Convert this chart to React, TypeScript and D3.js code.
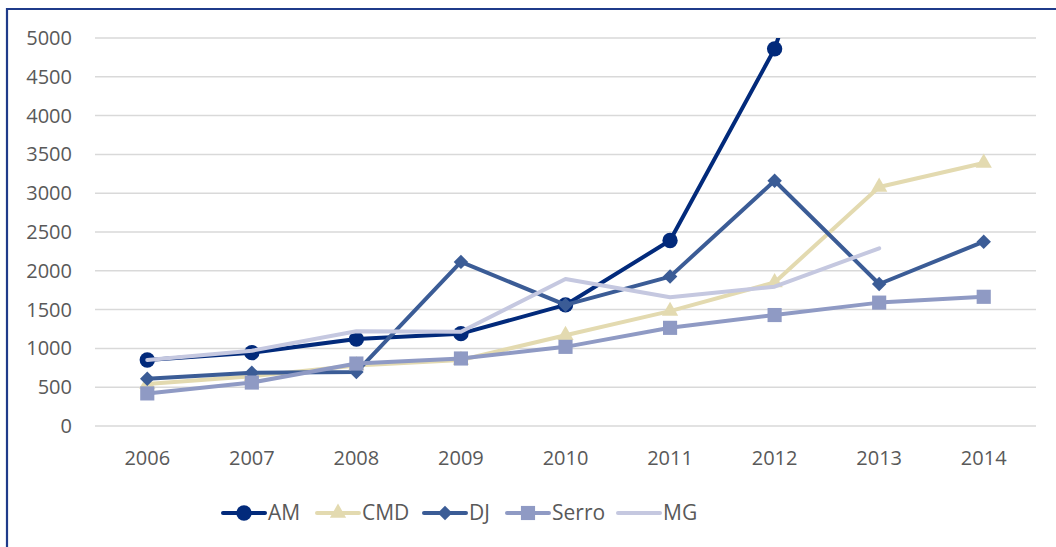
import { useMemo } from "react";
import * as d3 from "d3";

const width = 1056;
const height = 547;
const margin = { top: 38, right: 20, bottom: 121, left: 95 };

const years = ["2006", "2007", "2008", "2009", "2010", "2011", "2012", "2013", "2014"];
const yTicks = [0, 500, 1000, 1500, 2000, 2500, 3000, 3500, 4000, 4500, 5000];

const amValues = [850, 945, 1120, 1190, 1560, 2390, 4860, 8900, null];
const cmdValues = [540, 640, 780, 850, 1170, 1480, 1850, 3080, 3390];
const djValues = [610, 685, 695, 2115, 1560, 1925, 3160, 1830, 2375];
const serroValues = [420, 560, 805, 870, 1020, 1265, 1430, 1590, 1665];
const mgValues = [850, 970, 1220, 1215, 1895, 1660, 1795, 2290, null];

type Marker = "circle" | "triangle" | "diamond" | "square" | "none";

type Series = {
  name: string;
  values: (number | null)[];
  color: string;
  marker: Marker;
};

const series: Series[] = [
  { name: "AM", values: amValues, color: "#022a7b", marker: "circle" },
  { name: "CMD", values: cmdValues, color: "#e3dab0", marker: "triangle" },
  { name: "DJ", values: djValues, color: "#3b5c96", marker: "diamond" },
  { name: "Serro", values: serroValues, color: "#8f9ac4", marker: "square" },
  { name: "MG", values: mgValues, color: "#c5c8e0", marker: "none" },
];

// diamond = square turned 45deg (d3's own diamond is too tall)
const symbolTypes: Record<string, d3.SymbolType> = {
  circle: d3.symbolCircle,
  triangle: d3.symbolTriangle,
  diamond: d3.symbolSquare,
  square: d3.symbolSquare,
};

const symbolSizes: Record<string, number> = {
  circle: 185,
  triangle: 115,
  diamond: 105,
  square: 200,
};

const font = "'Open Sans', 'Noto Sans', sans-serif";
const textColor = "#595959";

const MarkerShape = ({ marker, color, x, y }: { marker: Marker; color: string; x: number; y: number }) => {
  if (marker === "none") return null;
  const path = d3.symbol().type(symbolTypes[marker]).size(symbolSizes[marker])();
  const rotate = marker === "diamond" ? " rotate(45)" : "";
  return <path d={path ?? undefined} fill={color} transform={`translate(${x},${y})${rotate}`} />;
};

const App = () => {
  const { xScale, yScale, lines } = useMemo(() => {
    const xScale = d3
      .scaleBand<string>()
      .domain(years)
      .range([margin.left, width - margin.right]);
    const yScale = d3
      .scaleLinear()
      .domain([0, 5000])
      .range([height - margin.bottom, margin.top]);

    const line = d3
      .line<number | null>()
      .defined((d) => d !== null)
      .x((_, i) => (xScale(years[i]) as number) + xScale.bandwidth() / 2)
      .y((d) => yScale(d as number));

    const lines = series.map((s) => ({ ...s, path: line(s.values) }));
    return { xScale, yScale, lines };
  }, []);

  const cx = (i: number) => (xScale(years[i]) as number) + xScale.bandwidth() / 2;
  const legendY = 513;
  const legendItems = [
    { x: 223, textX: 268 },
    { x: 317, textX: 362 },
    { x: 424, textX: 469 },
    { x: 507, textX: 552 },
    { x: 618, textX: 663 },
  ];

  return (
    <svg
      width={width}
      height={height}
      style={{ position: "absolute", left: 0, top: 0, background: "#fff" }}
    >
      <defs>
        <clipPath id="plot-clip">
          <rect
            x={0}
            y={margin.top}
            width={width}
            height={height - margin.top - margin.bottom + 20}
          />
        </clipPath>
      </defs>

      {/* frame */}
      <path d={`M7,${height + 5} V9 H${width + 5}`} fill="none" stroke="#1f3b8a" strokeWidth={2.2} />

      {/* grid + y labels */}
      {yTicks.map((t) => (
        <g key={t}>
          <line
            x1={margin.left}
            x2={width - margin.right}
            y1={yScale(t)}
            y2={yScale(t)}
            stroke="#d9d9d9"
            strokeWidth={1.5}
          />
          <text
            x={72}
            y={yScale(t)}
            dy="0.35em"
            textAnchor="end"
            fontFamily={font}
            fontSize={20}
            fill={textColor}
          >
            {t}
          </text>
        </g>
      ))}

      {/* x labels */}
      {years.map((y, i) => (
        <text
          key={y}
          x={cx(i)}
          y={458}
          dy="0.35em"
          textAnchor="middle"
          fontFamily={font}
          fontSize={20}
          fill={textColor}
        >
          {y}
        </text>
      ))}

      {/* series */}
      <g clipPath="url(#plot-clip)">
        {lines.map((s) => (
          <g key={s.name}>
            <path
              d={s.path ?? undefined}
              fill="none"
              stroke={s.color}
              strokeWidth={4}
              strokeLinejoin="round"
              strokeLinecap="round"
            />
            {s.values.map((v, i) =>
              v === null ? null : (
                <MarkerShape key={i} marker={s.marker} color={s.color} x={cx(i)} y={yScale(v)} />
              )
            )}
          </g>
        ))}
      </g>

      {/* legend */}
      {series.map((s, i) => (
        <g key={s.name}>
          <line
            x1={legendItems[i].x}
            x2={legendItems[i].x + 42}
            y1={legendY}
            y2={legendY}
            stroke={s.color}
            strokeWidth={4}
            strokeLinecap="round"
          />
          <MarkerShape marker={s.marker} color={s.color} x={legendItems[i].x + 21} y={legendY} />
          <text
            x={legendItems[i].textX}
            y={legendY}
            dy="0.35em"
            fontFamily={font}
            fontSize={21}
            fill={textColor}
          >
            {s.name}
          </text>
        </g>
      ))}
    </svg>
  );
};

export default App;
